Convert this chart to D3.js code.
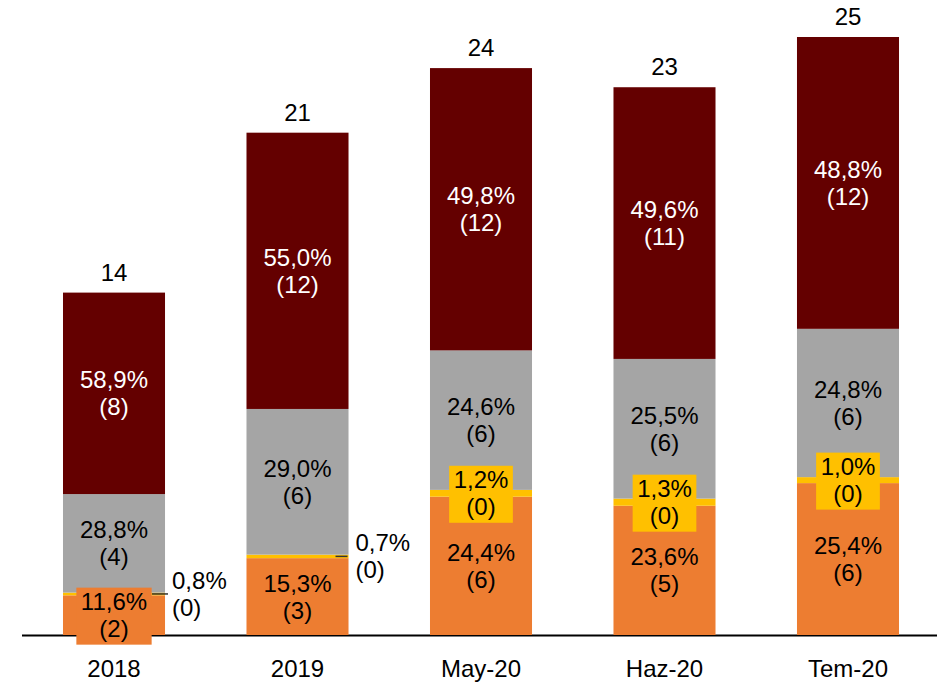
<!DOCTYPE html>
<html><head><meta charset="utf-8">
<script src="https://cdn.jsdelivr.net/npm/d3@7"></script>
<style>html,body{margin:0;padding:0;background:#fff;} svg{display:block;}</style>
</head><body>
<svg id="chart" width="937" height="684"></svg>
<script>
const categories = ["2018", "2019", "May-20", "Haz-20", "Tem-20"];
const totals = [14.3, 21.0, 23.7, 22.9, 25.0];
const totalLabels = ["14", "21", "24", "23", "25"];
const orangePct = [11.6, 15.3, 24.4, 23.6, 25.4];
const yellowPct = [0.8, 0.7, 1.2, 1.3, 1.0];
const grayPct = [28.8, 29.0, 24.6, 25.5, 24.8];
const redPct = [58.9, 55.0, 49.8, 49.6, 48.8];
const orangeCount = [2, 3, 6, 5, 6];
const yellowCount = [0, 0, 0, 0, 0];
const grayCount = [4, 6, 6, 6, 6];
const redCount = [8, 12, 12, 11, 12];

const seriesDefs = [
  {key: "orange", pct: orangePct, cnt: orangeCount, color: "#ED7D31", text: "#000"},
  {key: "yellow", pct: yellowPct, cnt: yellowCount, color: "#FFC000", text: "#000"},
  {key: "gray", pct: grayPct, cnt: grayCount, color: "#A5A5A5", text: "#000"},
  {key: "red", pct: redPct, cnt: redCount, color: "#640000", text: "#fff"}
];

const svg = d3.select("#chart");
const FONT = "'Liberation Sans', Arial, sans-serif";
const FS = 24;

const x = d3.scaleBand().domain(categories).range([22, 940]).paddingInner(0.444).paddingOuter(0.2234);
const y = d3.scaleLinear().domain([0, 25]).range([635, 37]);

const rows = categories.map((c, i) => {
  const r = {cat: c};
  seriesDefs.forEach(s => r[s.key] = totals[i] * s.pct[i] / 100);
  return r;
});
const stack = d3.stack().keys(seriesDefs.map(s => s.key))(rows);

// axis baseline
svg.append("line").attr("x1", 22).attr("x2", 937).attr("y1", y(0) + 0.5).attr("y2", y(0) + 0.5)
  .attr("stroke", "#000").attr("stroke-width", 2);

// bars
stack.forEach((layer, li) => {
  svg.append("g").selectAll("rect").data(layer).join("rect")
    .attr("x", d => x(d.data.cat))
    .attr("width", x.bandwidth())
    .attr("y", d => y(d[1]))
    .attr("height", d => y(d[0]) - y(d[1]))
    .attr("fill", seriesDefs[li].color);
});

const labels = svg.append("g").attr("font-family", FONT).attr("font-size", FS);

function twoLine(g, cx, cy, l1, l2, color, anchor) {
  const a = anchor || "middle";
  const t1 = g.append("text").attr("fill", color).attr("text-anchor", a)
    .attr("x", cx).attr("y", cy - 5).text(l1);
  const t2 = g.append("text").attr("fill", color).attr("text-anchor", a)
    .attr("x", cx).attr("y", cy + 22).text(l2);
  return [t1, t2];
}
function boxed(g, cx, cy, l1, l2, color, bg) {
  const grp = g.append("g");
  const rect = grp.append("rect").attr("fill", bg);
  const ts = twoLine(grp, cx, cy, l1, l2, color);
  const w = Math.max(...ts.map(t => t.node().getComputedTextLength()));
  rect.attr("x", cx - w / 2 - 4.5).attr("width", w + 9)
      .attr("y", cy - 27.5).attr("height", 57);
}
const fmt = v => v.toFixed(1).replace(".", ",") + "%";

stack.forEach((layer, li) => {
  const s = seriesDefs[li];
  layer.forEach((d, i) => {
    const cx = x(d.data.cat) + x.bandwidth() / 2;
    const cy = (y(d[0]) + y(d[1])) / 2;
    const l1 = fmt(s.pct[i]), l2 = "(" + s.cnt[i] + ")";
    if (s.key === "yellow") {
      if (i < 2) {
        const right = x(d.data.cat) + x.bandwidth();
        labels.append("line").attr("x1", right - 13).attr("x2", right + (i === 0 ? 3 : -1))
          .attr("y1", cy).attr("y2", cy).attr("stroke", "#333").attr("stroke-width", 1.5);
        twoLine(labels, right + 7, cy, l1, l2, s.text, "start");
      } else {
        boxed(labels, cx, cy, l1, l2, s.text, s.color);
      }
    } else if (s.key === "orange" && i === 0) {
      boxed(labels, cx, cy, l1, l2, s.text, s.color);
    } else {
      twoLine(labels, cx, cy, l1, l2, s.text);
    }
  });
});

// total labels
labels.append("g").selectAll("text").data(categories).join("text")
  .attr("x", d => x(d) + x.bandwidth() / 2)
  .attr("y", (d, i) => y(totals[i]) - 12)
  .attr("text-anchor", "middle").attr("fill", "#000")
  .text((d, i) => totalLabels[i]);

// category labels
labels.append("g").selectAll("text").data(categories).join("text")
  .attr("x", d => x(d) + x.bandwidth() / 2)
  .attr("y", 677)
  .attr("text-anchor", "middle").attr("fill", "#000")
  .text(d => d);
</script>
</body></html>
